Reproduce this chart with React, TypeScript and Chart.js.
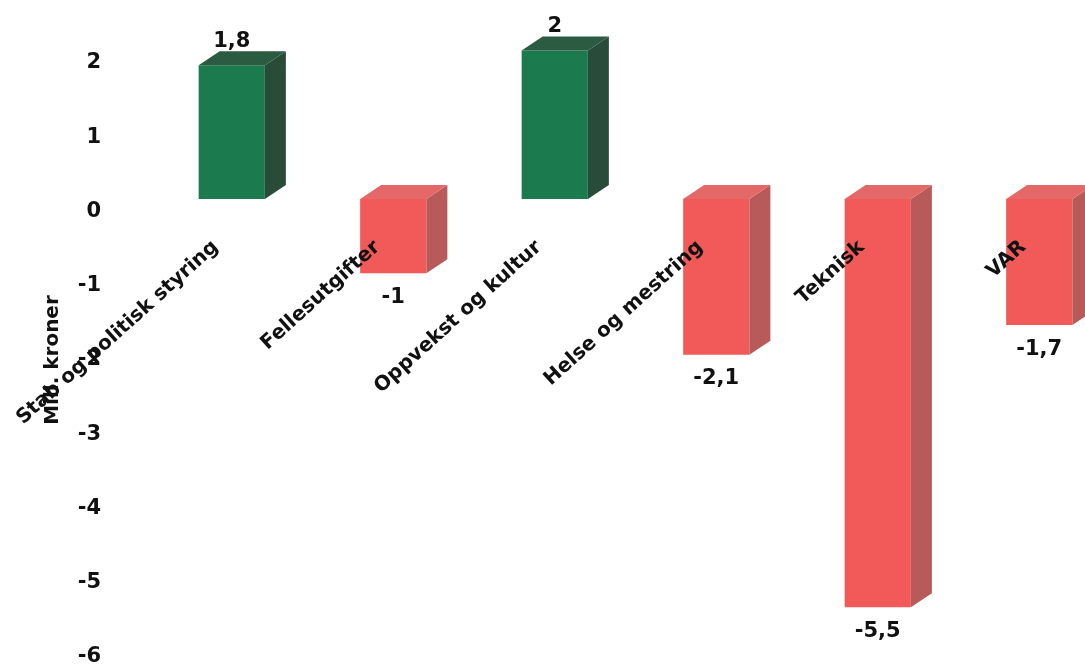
import React, { useEffect, useRef } from "react";
import { Chart, registerables } from "chart.js";

Chart.register(...registerables);

const categories = [
  "Stab og politisk styring",
  "Fellesutgifter",
  "Oppvekst og kultur",
  "Helse og mestring",
  "Teknisk",
  "VAR",
];
const values = [1.8, -1, 2, -2.1, -5.5, -1.7];
const yMin = -6;
const yMax = 2;
const yAxisTitle = "Mill. kroner";

const FONT = "'DejaVu Sans', sans-serif";
const DX = 21;
const DY = 14;
const FLOOR_SHIFT = 0.17; // 3D floor sits slightly above the value-axis zero

const posColors = { front: "#1c7a4f", side: "#284c37", top: "#2b5b40" };
const negColors = { front: "#f25a5a", side: "#b85a5a", top: "#e46868" };

const fmt = (v: number) => String(v).replace(".", ",");

const bar3d = {
  id: "bar3d",
  afterDatasetsDraw(chart: any) {
    const ctx = chart.ctx;
    const meta = chart.getDatasetMeta(0);
    meta.data.forEach((el: any, i: number) => {
      const { x, y, base, width } = el.getProps(["x", "y", "base", "width"], true);
      const v = values[i];
      const c = v >= 0 ? posColors : negColors;
      const x1 = x - width / 2;
      const x2 = x + width / 2;
      const top = Math.min(y, base);
      const bot = Math.max(y, base);
      ctx.save();
      ctx.fillStyle = c.side;
      ctx.beginPath();
      ctx.moveTo(x2, top);
      ctx.lineTo(x2 + DX, top - DY);
      ctx.lineTo(x2 + DX, bot - DY);
      ctx.lineTo(x2, bot);
      ctx.closePath();
      ctx.fill();
      ctx.fillStyle = c.top;
      ctx.beginPath();
      ctx.moveTo(x1, top);
      ctx.lineTo(x1 + DX, top - DY);
      ctx.lineTo(x2 + DX, top - DY);
      ctx.lineTo(x2, top);
      ctx.closePath();
      ctx.fill();
      ctx.fillStyle = "#111";
      ctx.font = `bold 21px ${FONT}`;
      ctx.textAlign = "center";
      if (v >= 0) {
        ctx.textBaseline = "alphabetic";
        ctx.fillText(fmt(v), x, top - DY - 4);
      } else {
        ctx.textBaseline = "middle";
        ctx.fillText(fmt(v), x, bot + 24);
      }
      ctx.restore();
    });
  },
};

export default function App() {
  const ref = useRef<HTMLCanvasElement>(null);
  useEffect(() => {
    if (!ref.current) return;
    const chart = new Chart(ref.current, {
      type: "bar",
      data: {
        labels: categories,
        datasets: [
          {
            data: values,
            yAxisID: "yBar",
            backgroundColor: values.map((v) => (v >= 0 ? posColors.front : negColors.front)),
            borderWidth: 0,
            categoryPercentage: 1,
            barPercentage: 0.41,
            clip: false as any,
          },
        ],
      },
      options: {
        animation: false,
        responsive: false,
        maintainAspectRatio: false,
        layout: { padding: { top: 63, bottom: 10, left: 0, right: 2 } },
        plugins: { legend: { display: false }, tooltip: { enabled: false } },
        scales: {
          x: {
            type: "category",
            position: { y: 0 } as any,
            grid: { display: false, drawTicks: false },
            border: { display: false },
            ticks: {
              z: 1,
              color: "#111",
              font: { family: FONT, size: 20, weight: "bold" },
              maxRotation: 42,
              minRotation: 42,
              autoSkip: false,
              padding: 24,
              labelOffset: -16,
            } as any,
            afterFit: (s: any) => {
              s.height = 0;
              s.paddingLeft = 0;
              s.paddingRight = 0;
            },
          },
          y: {
            min: yMin,
            max: yMax,
            position: "left",
            grid: { display: false, drawTicks: false },
            border: { display: false },
            ticks: {
              z: 1,
              stepSize: 1,
              color: "#111",
              padding: 50,
              font: { family: FONT, size: 21, weight: "bold" },
            } as any,
            title: {
              display: true,
              text: yAxisTitle,
              color: "#111",
              font: { family: FONT, size: 20, weight: "bold" },
              padding: { top: 41, bottom: 0 },
            },
            afterFit: (s: any) => {
              s.width = 151;
              s.paddingTop = 0;
              s.paddingBottom = 0;
            },
          },
          yBar: {
            display: false,
            min: yMin - FLOOR_SHIFT,
            max: yMax - FLOOR_SHIFT,
          },
        },
      },
      plugins: [bar3d],
    });
    return () => chart.destroy();
  }, []);
  return (
    <div
      style={{
        position: "fixed",
        left: 0,
        top: 0,
        width: 1085,
        height: 667,
        overflow: "hidden",
        background: "#fff",
      }}
    >
      <canvas ref={ref} width={1122} height={667} style={{ width: 1122, height: 667, display: "block" }} />
    </div>
  );
}
